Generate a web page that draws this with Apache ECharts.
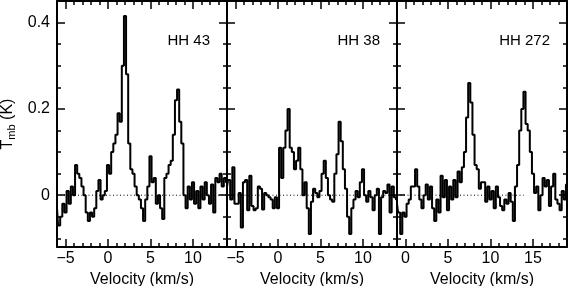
<!DOCTYPE html>
<html>
<head>
<meta charset="utf-8">
<script src="https://cdn.jsdelivr.net/npm/echarts@6/dist/echarts.min.js"></script>
<style>
  html, body { margin: 0; padding: 0; background: #fff; }
  #chart { width: 568px; height: 286px; }
</style>
</head>
<body>
<div id="chart"></div>
<script>
// spectra, one value per 0.25 km/s channel, starting at each panel's first velocity
const channelWidth = 0.25;

const panelNames = ['HH 43', 'HH 38', 'HH 272'];
const velocityRanges = [[-6, 14], [-6, 14], [-1, 19]];
const firstVelocity = [-6, -6, -1];
const zeroLineEnd = [14, 14, 13.9];

const xMajorTicks = [[-5, 0, 5, 10], [-5, 0, 5, 10], [0, 5, 10, 15]];
const yMajorTicks = [0, 0.2, 0.4];
const yMinorTicks = [-0.1, -0.05, 0.05, 0.1, 0.15, 0.25, 0.3, 0.35];

const hh43 = [
  -0.03, -0.07, -0.05, -0.02, -0.04, 0.01, -0.02, 0.02, 0.00, 0.07,
  0.05, 0.04, 0.02, 0.00, -0.04, -0.06, -0.04, -0.05, -0.03, 0.01,
  0.035, -0.01, 0.00, 0.01, 0.07, 0.05, 0.10, 0.12, 0.14, 0.19,
  0.17, 0.30, 0.415, 0.28, 0.12, 0.06, 0.05, 0.02, 0.00, -0.01,
  -0.03, -0.06, -0.01, 0.02, 0.09, 0.03, 0.04, -0.02, 0.00, -0.03,
  -0.055, 0.04, 0.05, 0.07, 0.08, 0.14, 0.22, 0.245, 0.17, 0.12,
  0.00, -0.03, 0.02, -0.01, 0.03, -0.02, 0.01, -0.03, 0.02, -0.01,
  0.03, 0.00, -0.02, 0.025, -0.04, 0.04, 0.03, 0.05, 0.02, 0.04,
  0.03
];

const hh38 = [
  0.02, 0.035, -0.01, 0.065, -0.02, -0.02, 0.005, -0.075, 0.03, 0.035,
  -0.035, 0.045, -0.025, -0.035, -0.03, 0.02, 0.015, -0.033, 0.005, 0.00,
  -0.005, -0.01, -0.03, -0.005, -0.03, 0.11, 0.04, 0.11, 0.15, 0.20,
  0.11, 0.10, 0.06, 0.08, 0.11, 0.06, 0.00, 0.03, -0.03, -0.09,
  -0.015, 0.015, 0.005, -0.005, 0.01, 0.05, 0.08, 0.04, 0.00, -0.01,
  -0.015, 0.05, 0.095, 0.17, 0.125, 0.06, 0.015, -0.05, -0.09, -0.03,
  -0.01, 0.01, -0.005, 0.03, 0.06, 0.00, -0.015, 0.01, -0.005, -0.035,
  0.00, 0.015, -0.09, -0.005, 0.01, 0.005, 0.025, -0.04, 0.02, -0.005,
  -0.01
];

const hh272 = [
  -0.02, -0.04, -0.09, -0.04, -0.05, -0.02, -0.01, 0.02, 0.02, 0.06,
  0.02, -0.01, -0.03, 0.00, 0.025, -0.01, 0.02, -0.03, -0.06, -0.01,
  -0.04, 0.045, -0.005, 0.035, -0.035, 0.02, -0.01, 0.035, -0.005, 0.055,
  0.03, 0.065, 0.10, 0.18, 0.26, 0.215, 0.14, 0.07, 0.06, 0.015,
  0.03, 0.03, -0.015, 0.02, -0.01, 0.01, -0.03, 0.02, -0.005, -0.025,
  -0.035, -0.01, -0.02, 0.005, -0.015, -0.06, 0.02, 0.07, 0.15, 0.20,
  0.24, 0.165, 0.15, 0.10, 0.05, 0.005, 0.02, -0.035, 0.00, 0.04,
  0.02, 0.035, -0.025, 0.02, 0.05, -0.01, -0.02, -0.035, 0.01, -0.01,
  0.025
];

const spectra = [hh43, hh38, hh272];

const FONT = 'Liberation Sans';
const panelLeft = [57, 227, 397];
const panelWidth = 170;
const minus = v => String(v).replace('-', '\u2212');

const grids = [];
const xAxes = [];
const yAxes = [];
const series = [];
const graphics = [];

const range = (a, b) => {
  const out = [];
  for (let v = a; v <= b; v++) out.push(v);
  return out;
};

const frameLine = { show: true, onZero: false, lineStyle: { color: '#000', width: 2 } };
const noLine = { show: false, onZero: false };
const tickStyle = { color: '#000', width: 1.5 };

panelNames.forEach((name, i) => {
  grids.push({
    left: panelLeft[i], top: 1, width: panelWidth, height: 246,
    containLabel: false, outerBoundsMode: 'none'
  });
  const [xmin, xmax] = velocityRanges[i];
  const minorX = range(Math.ceil(xmin), Math.floor(xmax)).filter(v => v % 5 !== 0);

  const baseX = {
    gridIndex: i, type: 'value', min: xmin, max: xmax,
    splitLine: { show: false }
  };
  // bottom, major ticks + labels
  xAxes.push(Object.assign({}, baseX, {
    position: 'bottom',
    axisLine: frameLine,
    axisTick: { inside: true, length: 8, customValues: xMajorTicks[i], lineStyle: tickStyle },
    axisLabel: { customValues: xMajorTicks[i], formatter: minus, color: '#000', fontFamily: FONT, fontSize: 16, margin: 4 },
    name: 'Velocity (km/s)', nameLocation: 'middle', nameGap: 24,
    nameTextStyle: { color: '#000', fontFamily: FONT, fontSize: 16 }
  }));
  // bottom, minor ticks
  xAxes.push(Object.assign({}, baseX, {
    position: 'bottom',
    axisLine: noLine,
    axisTick: { inside: true, length: 4, customValues: minorX, lineStyle: tickStyle },
    axisLabel: { show: false }
  }));
  // top mirror
  xAxes.push(Object.assign({}, baseX, {
    position: 'top',
    axisLine: frameLine,
    axisTick: { inside: true, length: 8, customValues: xMajorTicks[i], lineStyle: tickStyle },
    axisLabel: { show: false }
  }));
  xAxes.push(Object.assign({}, baseX, {
    position: 'top',
    axisLine: noLine,
    axisTick: { inside: true, length: 4, customValues: minorX, lineStyle: tickStyle },
    axisLabel: { show: false }
  }));

  const baseY = {
    gridIndex: i, type: 'value', min: -0.12, max: 0.45,
    splitLine: { show: false }
  };
  ['left', 'right'].forEach(pos => {
    const major = Object.assign({}, baseY, {
      position: pos,
      axisLine: frameLine,
      axisTick: { inside: true, length: 8, customValues: yMajorTicks, lineStyle: tickStyle },
      axisLabel: { show: false }
    });
    if (pos === 'left' && i === 0) {
      major.axisLabel = { show: true, customValues: yMajorTicks, color: '#000', fontFamily: FONT, fontSize: 16, margin: 7 };
      major.name = '{t|T}{s|mb}{t| (K)}';
      major.nameLocation = 'middle';
      major.nameGap = 40;
      major.nameTextStyle = {
        rich: {
          t: { fontFamily: FONT, fontSize: 16, color: '#000' },
          s: { fontFamily: FONT, fontSize: 11, color: '#000', verticalAlign: 'bottom', padding: [8, 0, 0, 0] }
        }
      };
    }
    yAxes.push(major);
    yAxes.push(Object.assign({}, baseY, {
      position: pos,
      axisLine: noLine,
      axisTick: { inside: true, length: 4, customValues: yMinorTicks, lineStyle: tickStyle },
      axisLabel: { show: false }
    }));
  });

  const xIdx = i * 4;
  const yIdx = i * 4;

  series.push({
    type: 'line', xAxisIndex: xIdx, yAxisIndex: yIdx,
    data: [[xmin, 0], [zeroLineEnd[i], 0]],
    symbol: 'none', silent: true, z: 1,
    lineStyle: { color: '#000', width: 1, type: [1, 2.5] }
  });
  series.push({
    type: 'line', xAxisIndex: xIdx, yAxisIndex: yIdx,
    step: 'middle', symbol: 'none', clip: true, z: 2,
    data: spectra[i].map((t, k) => [firstVelocity[i] + k * channelWidth, t]),
    lineStyle: { color: '#000', width: 2 }
  });

  graphics.push({
    type: 'text',
    x: panelLeft[i] + panelWidth - 17, y: 41,
    style: {
      text: name, fill: '#000', font: '15px "' + FONT + '"',
      align: 'right', verticalAlign: 'middle'
    }
  });
});

const chart = echarts.init(document.getElementById('chart'), null, { renderer: 'canvas' });
chart.setOption({
  animation: false,
  backgroundColor: '#fff',
  grid: grids,
  xAxis: xAxes,
  yAxis: yAxes,
  series: series,
  graphic: graphics
});
</script>
</body>
</html>
